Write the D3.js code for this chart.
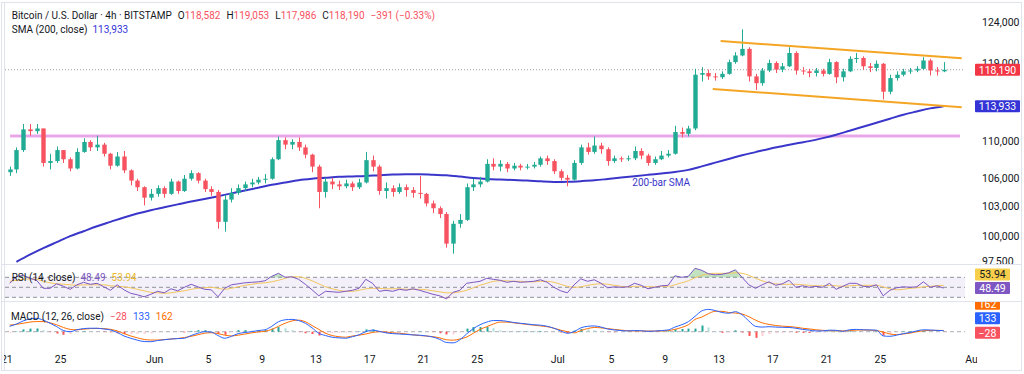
<!DOCTYPE html>
<html lang="en">
<head>
<meta charset="utf-8">
<title>Bitcoin / U.S. Dollar 4h</title>
<script src="https://cdn.jsdelivr.net/npm/d3@7"></script>
<style>
  * { margin: 0; padding: 0; }
  body { background: #fff; width: 1024px; height: 374px; overflow: hidden; }
  svg { font-family: Roboto, "Open Sans", sans-serif; }
</style>
</head>
<body>
<svg id="chart" width="1024" height="374"></svg>
<script>
// ---- data (12h candles) ----
const firstCandle = "2025-05-21T00:00:00Z";
const candleHours = 12;
const firstOpen = 106600;
const closes = [106900,109000,111300,111100,111400,107600,107800,109000,108000,107000,
  108800,109900,109300,109600,108600,107300,108300,106800,105700,105000,
  103900,104300,104900,104300,105600,104600,105900,106500,105700,104800,
  104500,101400,103700,104400,104900,105300,105500,105800,105900,108000,
  110100,109600,109900,109300,108500,107200,104500,105600,105300,105100,
  105400,105000,105500,107900,107200,104600,104900,104500,105000,104700,
  104400,104300,103300,102800,102200,99200,101200,101600,105000,105300,
  105600,107500,107200,107500,107000,107300,107100,107200,107400,108100,
  107800,106700,106000,105800,107600,109300,108800,109500,109100,107800,
  108100,108000,108100,108900,108400,107600,108000,108400,108600,111000,
  110800,111400,117600,117800,117400,117300,117700,119100,119900,120700,
  117400,116600,118100,119000,118200,118600,120200,118100,118000,117800,
  118100,117700,119100,117300,118000,119500,119600,118600,118400,118900,
  115600,117200,117600,118000,118100,118300,119300,118100,118000,118190];
const highs = [107200,109300,111900,111900,111900,111400,108600,109400,109000,108200,
  109200,110300,110100,110600,109800,108700,108800,108900,106900,105900,
  105100,104800,105200,105100,105900,105700,106300,106800,106600,105900,
  105100,104700,104200,104900,105300,105600,105900,106100,106400,108200,
  110500,110400,110200,110400,109600,108600,107400,106000,106000,105700,
  105800,105600,105900,108800,108400,107400,105500,105200,105400,105300,
  105000,106200,104400,103600,103000,102400,101500,102200,105400,105900,
  106100,108000,108100,107900,107700,107600,107500,107500,107700,108300,
  108400,108000,106900,106300,107900,109600,109800,110500,109800,109300,
  108400,108300,108400,109400,109200,108600,108300,108900,109000,111700,
  111500,111700,118300,118500,118200,117800,118000,119400,120300,123100,
  120900,117700,118400,119400,119200,119000,120900,120400,118500,118300,
  118400,118300,119500,119200,118300,119800,120200,119800,119000,119300,
  119000,117600,118000,118300,118400,118600,119700,119500,118500,119100];
const lows = [106200,106500,108800,110600,110800,107200,106900,107600,107600,106700,
  106900,108700,108900,108900,108300,106900,107200,106500,105200,104600,
  103100,103600,104000,103900,104200,104300,104500,105700,105400,104500,
  104100,100700,100400,103400,104200,104600,105000,105300,105400,105800,
  107900,109100,109100,108900,108100,106600,102800,103900,104800,104700,
  104900,104600,104800,105400,106700,104200,103800,104000,104300,104000,
  103900,103800,103000,102300,101800,98800,98200,100800,101500,104600,
  105000,105500,106800,106700,106600,106800,106800,106900,107000,107200,
  107400,106400,105700,105100,105700,107400,108500,108600,108600,107300,
  107600,107700,107800,107900,108000,107300,107400,107900,108200,108500,
  110400,110500,111200,116800,117000,116900,117100,117600,118900,119800,
  116800,115800,116300,117900,117800,117900,118500,117600,117600,117300,
  117400,117400,117600,116600,116800,117900,119000,118200,117900,118000,
  114700,115300,116900,117400,117700,117900,118200,117500,117500,117900];
// 200-bar SMA, one reading per day (at every second candle)
const sma200 = [97400,98100,98750,99350,99950,100450,100950,101400,101850,102250,
  102600,102900,103200,103500,103750,104050,104350,104650,104950,105250,
  105500,105750,105900,106000,106100,106150,106200,106280,106340,106390,
  106380,106320,106260,106130,105980,105870,105810,105760,105710,105620,
  105560,105570,105640,105730,105870,106020,106170,106320,106470,106620,
  106850,107230,107630,108030,108430,108780,109130,109430,109730,109990,
  110320,110700,111150,111600,112050,112500,112950,113320,113680,113933];
const rsi = [58,71,74,68,64,48,48,57,52,46, 55,60,56,58,51,44,55,45,38,35,
  31,36,42,39,47,43,50,56,51,46, 45,31,48,55,57,59,60,61,63,72,
  78,70,71,66,56,45,33,42,41,40, 42,44,48,66,58,42,44,42,46,44,
  47,44,40,36,33,27,40,44,58,60, 62,68,66,64,60,62,60,61,62,65,
  60,50,43,39,55,67,62,65,58,49, 51,50,51,58,54,47,50,53,54,73,
  70,72,88,84,77,75,76,79,85,70, 55,48,55,61,54,57,64,50,53,50,
  52,50,58,46,52,58,58,52,51,55, 33,44,49,51,50,51,61,50,53,48.49];
const rsiMa = [62,64,66,67,66,62,59,57,56,55, 54,55,55,55,55,53,52,51,49,46,
  43,40,39,38,39,41,43,46,48,49, 50,48,46,48,51,54,56,58,59,61,
  64,68,71,71,68,63,57,51,47,44, 42,42,44,47,48,48,47,47,47,46,
  46,46,45,43,41,39,39,41,44,49, 54,58,62,63,63,62,62,61,61,62,
  62,60,56,52,50,51,54,56,57,56, 54,52,51,52,52,51,51,52,52,55,
  59,63,69,74,77,78,78,78,79,78, 74,68,63,59,57,56,56,56,55,54,
  53,53,54,53,52,53,54,54,54,54, 51,47,45,46,48,49,51,52,53,53.94];
const macd = [700,1000,1400,1650,1740,1500,1100,660,150,0,
  250,400,450,450,350,230,-100,-550,-850,-1100,
  -1280,-1300,-1150,-1050,-950,-900,-850,-500,-200,0,
  -50,-500,-850,-600,-250,-100,0,150,250,700,
  1300,1550,1600,1450,1100,500,-200,-500,-720,-800,
  -850,-650,-400,0,200,50,-150,-250,-300,-350,
  -420,-450,-550,-700,-1000,-1400,-1450,-1050,-300,400,
  900,1250,1450,1450,1350,1200,1100,1000,900,850,
  700,450,100,-200,0,500,700,750,600,350,
  230,150,100,150,120,50,80,150,230,600,
  900,1300,2000,2700,2900,2750,2500,2400,2600,2200,
  1400,700,600,650,600,570,550,450,300,200,
  100,100,200,180,50,250,300,250,230,200,
  -550,-600,-450,-250,-100,100,250,220,170,133];
const signal = [850,950,1100,1250,1320,1310,1150,900,550,300,
  250,330,400,430,400,300,100,-250,-550,-800,
  -1000,-1080,-1080,-1020,-950,-880,-760,-600,-400,-200,
  -130,-250,-450,-550,-450,-300,-150,-30,50,300,
  700,1100,1400,1500,1300,800,300,-200,-500,-650,
  -720,-560,-450,-300,-100,0,-50,-150,-200,-300,
  -400,-500,-560,-650,-800,-1050,-1100,-950,-700,-200,
  300,650,1000,1250,1250,1150,1050,950,850,750,
  650,450,200,0,-150,150,400,550,500,400,
  300,200,120,100,100,80,80,100,150,300,
  550,900,1600,1900,2350,2650,2650,2500,2420,2300,
  1950,1500,1150,950,800,720,670,580,450,360,
  250,180,140,120,110,150,210,220,200,150,
  -50,-300,-380,-300,-180,0,120,170,170,162];

const priceTicks = [124000, 119000, 110000, 106000, 103000, 100000, 97500];
const dateTicks = ["2025-05-21","2025-05-25","2025-06-01","2025-06-05","2025-06-09",
  "2025-06-13","2025-06-17","2025-06-21","2025-06-25","2025-07-01","2025-07-05",
  "2025-07-09","2025-07-13","2025-07-17","2025-07-21","2025-07-25","2025-08-01"];

// drawn lines: [time, price]
const resistance = [["2025-05-21T06:40Z",110560],["2025-07-30T23:20Z",110560]];
const channelTop = [["2025-07-13T03:40Z",121650],["2025-07-31T02:20Z",119560]];
const channelBottom = [["2025-07-12T13:40Z",115920],["2025-07-31T02:20Z",113800]];
const smaNote = ["2025-07-06T14:00Z",105100,"200-bar SMA"];

const titleText = "Bitcoin / U.S. Dollar \u00b7 4h \u00b7 BITSTAMP";
const ohlcText = [["O","118,582"],["H","119,053"],["L","117,986"],["C","118,190"]];
const changeText = "\u2212391 (\u22120.33%)";
const smaText = ["SMA (200, close)","113,933"];
const rsiText = ["RSI (14, close)","48.49","53.94"];
const macdText = ["MACD (12, 26, close)","\u221228","133","162"];

// ---- setup ----
const svg = d3.select("#chart");
const HR = 3600e3;
const t0 = new Date(firstCandle);
const upCol = "#22ab94", dnCol = "#f7525f";
const ink = "#131722";

const x = d3.scaleUtc()
  .domain([new Date(+t0 - 2.4 * HR), new Date(+t0 + 71.34 * 24 * HR)])
  .range([5, 965]);
const yP = d3.scaleLog().domain([97185, 126790]).range([264, 0]);
const yR = d3.scaleLinear().domain([30, 70]).range([297.3, 277.3]);
const yM = d3.scaleLinear().domain([0, 2600]).range([331.7, 311.7]);

const tAt = i => new Date(+t0 + (i * candleHours + candleHours / 2) * HR);
const candles = closes.map((c, i) => ({
  t: tAt(i), o: i ? closes[i - 1] : firstOpen, h: highs[i], l: lows[i], c
}));

const defs = svg.append("defs");
function clip(id, x0, y0, w, h) {
  defs.append("clipPath").attr("id", id).append("rect")
    .attr("x", x0).attr("y", y0).attr("width", w).attr("height", h);
}
clip("cMain", 5, 0, 960, 264);
clip("cRsi", 5, 265, 960, 36.5);
clip("cMacd", 5, 302, 960, 46);
clip("cPax", 966, 0, 58, 264);
clip("cTax", 4, 348, 973, 24);
clip("cMlab", 966, 302, 58, 46);

// frame + pane separators
const frame = svg.append("g").attr("stroke", "#e0e3eb").attr("fill", "none");
frame.append("rect").attr("x", 1.5).attr("y", 2.5).attr("width", 1020).attr("height", 368);
frame.append("line").attr("x1", 4.5).attr("x2", 4.5).attr("y1", 3).attr("y2", 370);
frame.append("line").attr("x1", 2).attr("x2", 1022).attr("y1", 264.5).attr("y2", 264.5);
frame.append("line").attr("x1", 2).attr("x2", 1022).attr("y1", 301.5).attr("y2", 301.5);

// ---- main pane ----
const gMain = svg.append("g").attr("clip-path", "url(#cMain)");
const line2 = d3.line().x(d => x(new Date(d[0]))).y(d => yP(d[1]));

gMain.append("path").datum(resistance).attr("d", line2)
  .attr("stroke", "#e59ce6").attr("stroke-width", 3).attr("fill", "none").attr("opacity", 0.9);

const lastClose = closes[closes.length - 1];
gMain.append("line")
  .attr("x1", 5).attr("x2", 965).attr("y1", yP(lastClose)).attr("y2", yP(lastClose))
  .attr("stroke", "#9a9ea8").attr("stroke-dasharray", "1,2");

const smaPts = sma200.map((v, k) => [tAt(2 * k + 1), v]);
gMain.append("path").datum(smaPts)
  .attr("d", d3.line().curve(d3.curveMonotoneX).x(d => x(d[0])).y(d => yP(d[1])))
  .attr("stroke", "#3a36c9").attr("stroke-width", 2).attr("fill", "none");

const bw = 4.4;
const gC = gMain.append("g");
gC.selectAll("line").data(candles).join("line")
  .attr("x1", d => Math.round(x(d.t)) + 0.5).attr("x2", d => Math.round(x(d.t)) + 0.5)
  .attr("y1", d => yP(d.h)).attr("y2", d => yP(d.l))
  .attr("stroke", d => d.c >= d.o ? upCol : dnCol);
gC.selectAll("rect").data(candles).join("rect")
  .attr("x", d => Math.round(x(d.t)) + 0.5 - bw / 2).attr("width", bw)
  .attr("y", d => yP(Math.max(d.o, d.c)))
  .attr("height", d => Math.max(1, Math.abs(yP(d.o) - yP(d.c))))
  .attr("fill", d => d.c >= d.o ? upCol : dnCol);

[channelTop, channelBottom].forEach(ch => {
  gMain.append("path").datum(ch).attr("d", line2)
    .attr("stroke", "#f5a524").attr("stroke-width", 2).attr("fill", "none");
});

gMain.append("text")
  .attr("x", x(new Date(smaNote[0]))).attr("y", yP(smaNote[1]))
  .attr("font-size", 10).attr("fill", "#3a36c9").text(smaNote[2]);

// price axis
const pax = svg.append("g").attr("clip-path", "url(#cPax)")
  .append("g").attr("transform", "translate(982,0)")
  .call(d3.axisRight(yP).tickValues(priceTicks).tickSize(0).tickPadding(0)
    .tickFormat(d3.format(",")));
pax.select(".domain").remove();
pax.selectAll("text").attr("font-size", 10.5).attr("fill", ink)
  .attr("font-family", "Roboto, sans-serif");

function tag(g, yc, txt, bg, fg, w) {
  g.append("rect").attr("x", 975).attr("y", yc - 6).attr("width", w).attr("height", 12)
    .attr("rx", 1).attr("fill", bg);
  g.append("text").attr("x", 975 + w / 2).attr("y", yc + 3.8).attr("text-anchor", "middle")
    .attr("font-size", 10.5).attr("fill", fg).text(txt);
}
const gTags = svg.append("g");
tag(gTags, yP(lastClose), d3.format(",")(lastClose), "#f23645", "#fff", 45);
tag(gTags, yP(sma200[sma200.length - 1]), d3.format(",")(sma200[sma200.length - 1]), "#3434d6", "#fff", 45);

// ---- RSI pane ----
const gR = svg.append("g").attr("clip-path", "url(#cRsi)");
gR.append("rect").attr("x", 5).attr("width", 960)
  .attr("y", yR(70)).attr("height", yR(30) - yR(70))
  .attr("fill", "#7e57c2").attr("opacity", 0.09);
[70, 50, 30].forEach(v => gR.append("line")
  .attr("x1", 5).attr("x2", 965).attr("y1", yR(v)).attr("y2", yR(v))
  .attr("stroke", "#787b86").attr("stroke-dasharray", "4,3").attr("opacity", 0.8));
const rsiPts = rsi.map((v, i) => [tAt(i), v]);
gR.append("path").datum(rsiPts)
  .attr("d", d3.area().x(d => x(d[0])).y0(yR(70)).y1(d => yR(Math.max(70, d[1]))))
  .attr("fill", "#4caf50").attr("opacity", 0.35);
gR.append("path").datum(rsiPts)
  .attr("d", d3.area().x(d => x(d[0])).y0(yR(30)).y1(d => yR(Math.min(30, d[1]))))
  .attr("fill", "#f23645").attr("opacity", 0.3);
gR.append("path").datum(rsiMa.map((v, i) => [tAt(i), v]))
  .attr("d", d3.line().curve(d3.curveMonotoneX).x(d => x(d[0])).y(d => yR(d[1])))
  .attr("stroke", "#f2c55c").attr("stroke-width", 1).attr("fill", "none");
gR.append("path").datum(rsiPts)
  .attr("d", d3.line().x(d => x(d[0])).y(d => yR(d[1])))
  .attr("stroke", "#7e57c2").attr("stroke-width", 1).attr("fill", "none");

const rsiNow = rsi[rsi.length - 1], rsiMaNow = rsiMa[rsiMa.length - 1];
tag(gTags, yR(rsiNow), rsiNow.toFixed(2), "#7e57c2", "#fff", 35);
tag(gTags, yR(rsiNow) - 13.5, rsiMaNow.toFixed(2), "#f7cf4a", ink, 35);

// ---- MACD pane ----
const gM = svg.append("g").attr("clip-path", "url(#cMacd)");
gM.append("line").attr("x1", 5).attr("x2", 965).attr("y1", yM(0)).attr("y2", yM(0))
  .attr("stroke", "#787b86").attr("stroke-dasharray", "4,3").attr("opacity", 0.6);
const hist = macd.map((v, i) => ({ t: tAt(i), v: v - signal[i] }));
gM.selectAll("rect").data(hist).join("rect")
  .attr("x", d => Math.round(x(d.t)) - 0.5).attr("width", 2)
  .attr("y", d => Math.min(yM(0), yM(d.v)))
  .attr("height", d => Math.abs(yM(d.v) - yM(0)))
  .attr("fill", (d, i) => {
    const prev = i ? hist[i - 1].v : d.v;
    if (d.v >= 0) return d.v >= prev ? "#26a69a" : "#b2dfdb";
    return d.v < prev ? "#ff5252" : "#ffcdd2";
  });
const lineM = d3.line().curve(d3.curveMonotoneX).x(d => x(d[0])).y(d => yM(d[1]));
gM.append("path").datum(signal.map((v, i) => [tAt(i), v])).attr("d", lineM)
  .attr("stroke", "#ff6d00").attr("stroke-width", 1).attr("fill", "none");
gM.append("path").datum(macd.map((v, i) => [tAt(i), v])).attr("d", lineM)
  .attr("stroke", "#2962ff").attr("stroke-width", 1).attr("fill", "none");

const gML = svg.append("g").attr("clip-path", "url(#cMlab)");
const yHist = yM(0) + 1;
tag(gML, yHist, macdText[1], "#f7525f", "#fff", 25);
tag(gML, yHist - 14.5, macdText[2], "#2962ff", "#fff", 25);
tag(gML, yHist - 29, macdText[3], "#ff6d00", "#fff", 25);

// ---- time axis ----
const tax = svg.append("g").attr("clip-path", "url(#cTax)")
  .append("g").attr("transform", "translate(0,355.5)")
  .call(d3.axisBottom(x).tickValues(dateTicks.map(d => new Date(d + "T00:00:00Z")))
    .tickSize(0).tickPadding(0)
    .tickFormat(d => d.getUTCDate() === 1 ? d3.utcFormat("%b")(d) : d.getUTCDate()));
tax.select(".domain").remove();
tax.selectAll("text").attr("font-size", 10.5).attr("fill", ink)
  .attr("font-family", "Roboto, sans-serif");

// ---- legends ----
const lg = svg.append("g").attr("font-size", 10).attr("fill", ink);
const hd = lg.append("text").attr("x", 11.7).attr("y", 18.5);
hd.append("tspan").text(titleText);
ohlcText.forEach(p => {
  hd.append("tspan").attr("dx", 6).text(p[0]);
  hd.append("tspan").attr("fill", dnCol).text(p[1]);
});
hd.append("tspan").attr("dx", 6).attr("fill", dnCol).text(changeText);

const sl = lg.append("text").attr("x", 11.7).attr("y", 33);
sl.append("tspan").text(smaText[0]);
sl.append("tspan").attr("dx", 5).attr("fill", "#3434d6").text(smaText[1]);

const rl = lg.append("text").attr("x", 11.7).attr("y", 280.5);
rl.append("tspan").text(rsiText[0]);
rl.append("tspan").attr("dx", 5).attr("fill", "#7e57c2").text(rsiText[1]);
rl.append("tspan").attr("dx", 6).attr("fill", "#e9b82c").text(rsiText[2]);

const ml = lg.append("text").attr("x", 11).attr("y", 319.5);
ml.append("tspan").text(macdText[0]);
ml.append("tspan").attr("dx", 6).attr("fill", "#f7525f").text(macdText[1]);
ml.append("tspan").attr("dx", 6).attr("fill", "#2962ff").text(macdText[2]);
ml.append("tspan").attr("dx", 6).attr("fill", "#ff6d00").text(macdText[3]);
</script>
</body>
</html>
